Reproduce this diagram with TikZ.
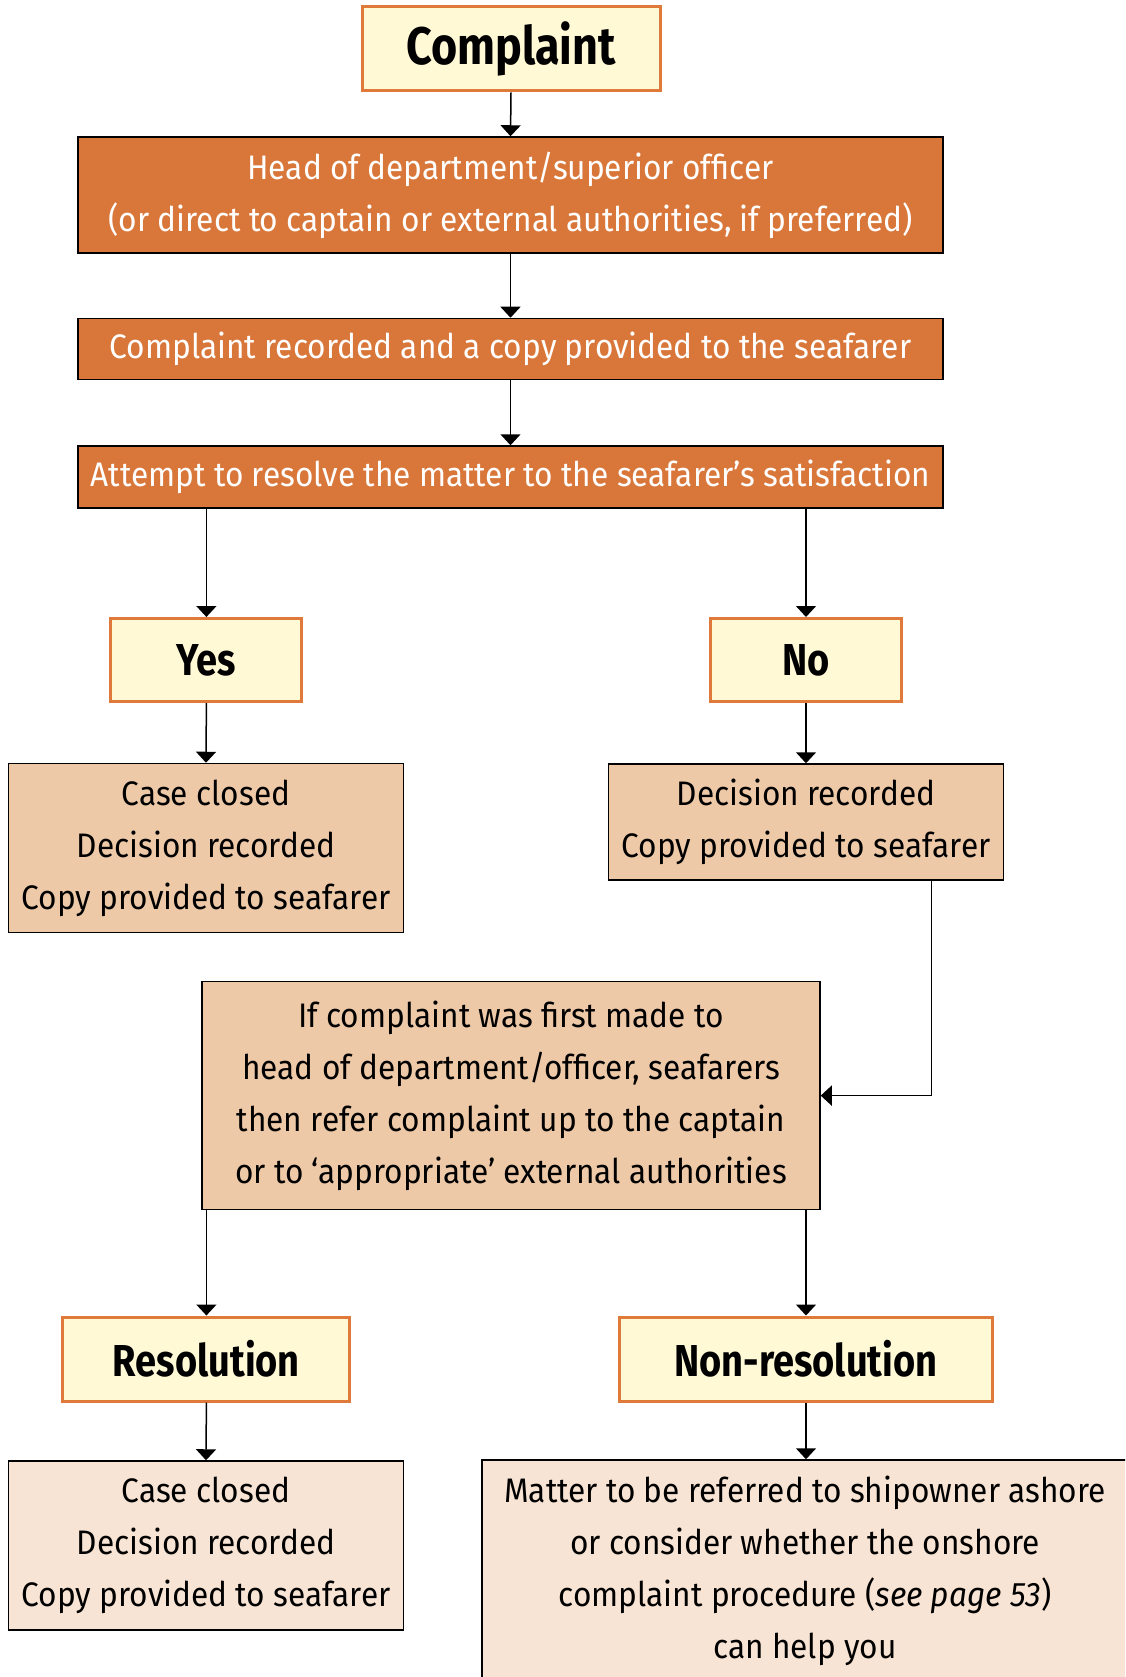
\documentclass[tikz,border=0pt]{standalone}
\usepackage{fontspec}
\setmainfont{Fira Sans}[FakeStretch=0.85]
\newfontfamily\bodyfont{Fira Sans}[FakeStretch=0.93]
\usetikzlibrary{arrows.meta,calc}
\definecolor{darkor}{HTML}{D9773A}
\definecolor{cream}{HTML}{FFF9D5}
\definecolor{orline}{HTML}{E07A3A}
\definecolor{tan}{HTML}{EEC9A8}
\definecolor{peach}{HTML}{F8E4D4}
\begin{document}
\begin{tikzpicture}[x=1pt,y=-1pt,
  base/.style={rectangle,inner sep=0pt,align=center,font=\bodyfont\fontsize{34}{52}\selectfont},
  dark/.style={base,fill=darkor,draw=black,line width=1.5pt,text=white},
  head/.style={rectangle,inner sep=0pt,fill=cream,draw=orline,line width=3pt,font=\bfseries\fontsize{44.7}{50}\selectfont},
  tanbox/.style={base,fill=tan,draw=black,line width=1.5pt},
  peachbox/.style={base,fill=peach,draw=black,line width=1.5pt},
  conn/.style={line width=1.5pt,-{Triangle[width=20pt,length=11pt]}}]
\useasboundingbox (0,0) rectangle (1125,1677);
\clip (0,0) rectangle (1125,1677);
\fill[white] (0,0) rectangle (1125,1677);
\node[head,minimum width=298pt,minimum height=84pt,font=\bfseries\fontsize{52.8}{60}\selectfont] (complaint) at (511,49) {Complaint};
\node[dark,minimum width=865pt,minimum height=116pt] (hod) at (510.5,195) {Head of department/superior officer\\(or direct to captain or external authorities, if preferred)};
\node[dark,minimum width=865pt,minimum height=61pt] (rec) at (510.5,349) {Complaint recorded and a copy provided to the seafarer};
\node[dark,minimum width=865pt,minimum height=62pt] (att) at (510.5,477) {Attempt to resolve the matter to the seafarer’s satisfaction};
\node[head,minimum width=191pt,minimum height=83pt] (yes) at (206.4,660) {Yes};
\node[head,minimum width=191pt,minimum height=83pt] (no) at (806,660) {No};
\node[tanbox,minimum width=395pt,minimum height=169pt] (cc1) at (206,848) {Case closed\\Decision recorded\\Copy provided to seafarer};
\node[tanbox,minimum width=395pt,minimum height=116pt] (dec) at (806,822) {Decision recorded\\Copy provided to seafarer};
\node[tanbox,minimum width=618pt,minimum height=228pt] (ifb) at (511,1095.6) {If complaint was first made to\\head of department/officer, seafarers\\then refer complaint up to the captain\\or to ‘appropriate’ external authorities};
\node[head,minimum width=287pt,minimum height=84pt] (res) at (206.4,1359) {Resolution};
\node[head,minimum width=373pt,minimum height=84pt] (nonres) at (806,1359) {Non-resolution};
\node[peachbox,minimum width=395pt,minimum height=169pt] (cc2) at (206,1545.5) {Case closed\\Decision recorded\\Copy provided to seafarer};
\node[peachbox,minimum width=646pt,minimum height=221pt] (matter) at (805,1570.5) {Matter to be referred to shipowner ashore\\or consider whether the onshore\\complaint procedure (\textit{see page 53})\\can help you};
\coordinate (decout) at ($(dec.south east)+(-73,0)$);
\draw[conn] (complaint.south) -- (hod.north);
\draw[conn] (hod.south) -- (rec.north);
\draw[conn] (rec.south) -- (att.north);
\draw[conn] (yes.north |- att.south) -- (yes.north);
\draw[conn] (no.north |- att.south) -- (no.north);
\draw[conn] (yes.south) -- (cc1.north);
\draw[conn] (no.south) -- (dec.north);
\draw[conn] (decout) |- (ifb.east);
\draw[conn] (res.north |- ifb.south) -- (res.north);
\draw[conn] (nonres.north |- ifb.south) -- (nonres.north);
\draw[conn] (res.south) -- (cc2.north);
\draw[conn] (nonres.south) -- (nonres.south |- matter.north);
\end{tikzpicture}
\end{document}
